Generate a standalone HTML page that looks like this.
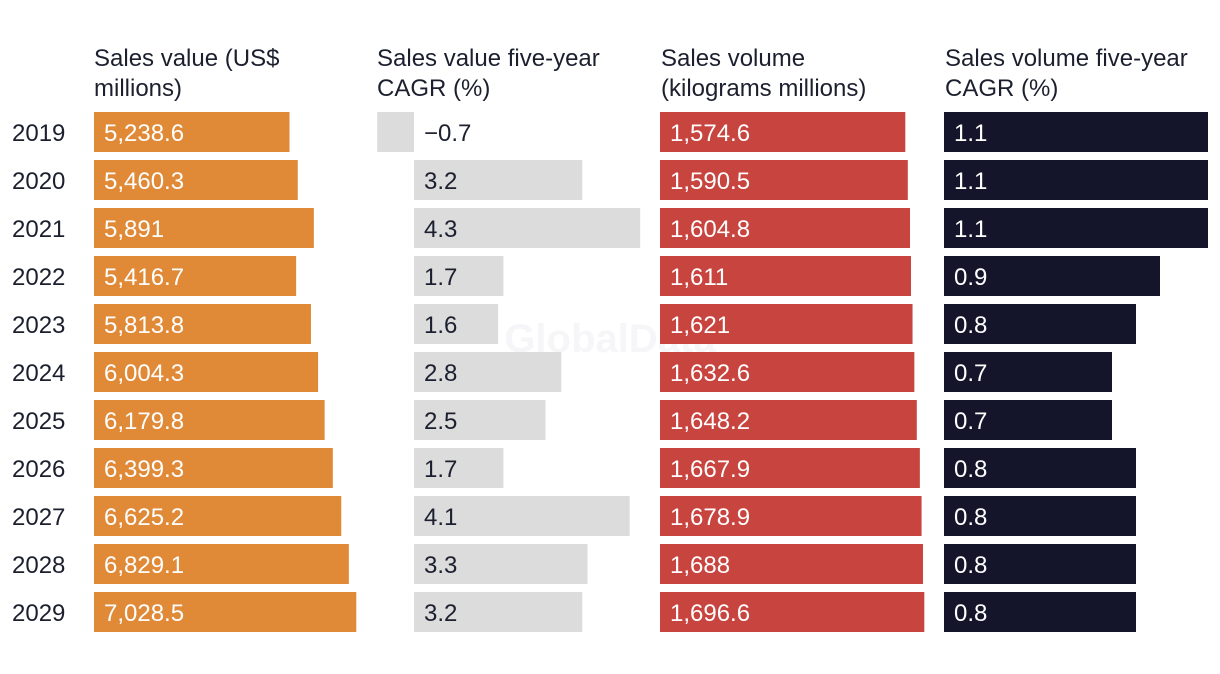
<!DOCTYPE html>
<html><head><meta charset="utf-8"><style>
html,body{margin:0;padding:0;background:#fff;}
svg{display:block;font-family:"Liberation Sans",sans-serif;}
</style></head><body>
<svg id="chart" width="1220" height="674" viewBox="0 0 1220 674">
<text x="610" y="352" text-anchor="middle" font-size="40" font-weight="bold" fill="#f6f6f8">GlobalData</text>
<g font-size="24" fill="#1c1f2e">
<text x="94" y="66"><tspan x="94">Sales value (US$</tspan><tspan x="94" dy="30">millions)</tspan></text>
<text x="377" y="66"><tspan x="377">Sales value five-year</tspan><tspan x="377" dy="30">CAGR (%)</tspan></text>
<text x="661" y="66"><tspan x="661">Sales volume</tspan><tspan x="661" dy="30">(kilograms millions)</tspan></text>
<text x="945" y="66"><tspan x="945">Sales volume five-year</tspan><tspan x="945" dy="30">CAGR (%)</tspan></text>
</g>
<g id="rows"></g>
</svg>
<script>
const years = ["2019","2020","2021","2022","2023","2024","2025","2026","2027","2028","2029"];
const salesValue = [5238.6,5460.3,5891,5416.7,5813.8,6004.3,6179.8,6399.3,6625.2,6829.1,7028.5];
const salesValueLabels = ["5,238.6","5,460.3","5,891","5,416.7","5,813.8","6,004.3","6,179.8","6,399.3","6,625.2","6,829.1","7,028.5"];
const valueCagr = [-0.7,3.2,4.3,1.7,1.6,2.8,2.5,1.7,4.1,3.3,3.2];
const salesVolume = [1574.6,1590.5,1604.8,1611,1621,1632.6,1648.2,1667.9,1678.9,1688,1696.6];
const salesVolumeLabels = ["1,574.6","1,590.5","1,604.8","1,611","1,621","1,632.6","1,648.2","1,667.9","1,678.9","1,688","1,696.6"];
const volumeCagr = [1.1,1.1,1.1,0.9,0.8,0.7,0.7,0.8,0.8,0.8,0.8];

const NS="http://www.w3.org/2000/svg";
const g=document.getElementById('rows');
const rowY=i=>112+i*48;
const BH=40;
const xVal=v=>94+v*0.03732;
const xVCagr=v=>414+v*52.6;
const xVol=v=>660+v*0.1558;
const xVolC=v=>944+v*240;
function rect(x,y,w,h,fill,name){const r=document.createElementNS(NS,'rect');r.setAttribute('x',x);r.setAttribute('y',y);r.setAttribute('width',w);r.setAttribute('height',h);r.setAttribute('fill',fill);


g.appendChild(r);}
function text(x,y,s,fill,name){const t=document.createElementNS(NS,'text');t.setAttribute('x',x);t.setAttribute('y',y);t.setAttribute('font-size','24');t.setAttribute('fill',fill);t.textContent=s;


g.appendChild(t);}
years.forEach((yr,i)=>{
 const y=rowY(i), ty=y+29;
 text(12,ty,yr,'#1c1f2e','year-label-'+yr);
 rect(xVal(0),y,xVal(salesValue[i])-xVal(0),BH,'#E08A38','bar-sales-value-'+yr);
 text(104,ty,salesValueLabels[i],'#fff','label-sales-value-'+yr);
 const v=valueCagr[i];
 const x0=Math.min(xVCagr(0),xVCagr(v));
 rect(x0,y,Math.abs(xVCagr(v)-xVCagr(0)),BH,'#DCDCDC','bar-value-cagr-'+yr);
 text(424,ty,v<0?'\u2212'+Math.abs(v).toFixed(1):v.toFixed(1),'#1c1f2e','label-value-cagr-'+yr);
 rect(xVol(0),y,xVol(salesVolume[i])-xVol(0),BH,'#C8443F','bar-sales-volume-'+yr);
 text(670,ty,salesVolumeLabels[i],'#fff','label-sales-volume-'+yr);
 rect(xVolC(0),y,xVolC(volumeCagr[i])-xVolC(0),BH,'#14152A','bar-volume-cagr-'+yr);
 text(954,ty,volumeCagr[i].toFixed(1),'#fff','label-volume-cagr-'+yr);
});
</script>
</body></html>
